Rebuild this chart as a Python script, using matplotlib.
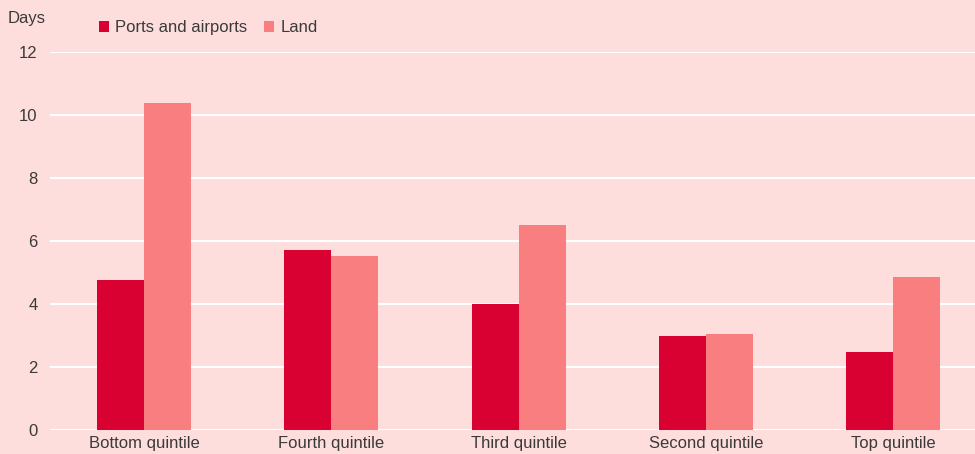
import matplotlib.pyplot as plt
import numpy as np

# data
categories = ["Bottom quintile", "Fourth quintile", "Third quintile", "Second quintile", "Top quintile"]
ports_airports = [4.76, 5.71, 4.0, 2.98, 2.48]
land = [10.38, 5.52, 6.51, 3.05, 4.86]
yticks = [0, 2, 4, 6, 8, 10, 12]

bg = "#FDDEDD"
c_ports = "#D90032"
c_land = "#F87E80"
txt = "#3a3a3a"

plt.rcParams["font.family"] = ["Liberation Sans", "DejaVu Sans"]

fig = plt.figure(figsize=(9.75, 4.54), dpi=100, facecolor=bg)
ax = fig.add_axes([50 / 975, 24 / 454, 925 / 975, 378 / 454], facecolor=bg)

x = np.arange(len(categories))
w = 0.251
ax.bar(x - w / 2, ports_airports, width=w, color=c_ports, label="Ports and airports", zorder=3)
ax.bar(x + w / 2, land, width=w, color=c_land, label="Land", zorder=3)

ax.set_ylim(0, 12)
ax.set_xlim(-0.502, 4.437)
ax.set_yticks(yticks)
ax.set_xticks(x)
ax.set_xticklabels(categories)
ax.yaxis.grid(True, color="white", lw=1.5, zorder=1)
ax.tick_params(length=0, labelsize=12, colors=txt)
ax.tick_params(axis="y", pad=9)
ax.tick_params(axis="x", pad=4)
for s in ax.spines.values():
    s.set_visible(False)

fig.text(8 / 975, 1 - 19 / 454, "Days", fontsize=12, color=txt, va="center", ha="left")
ax.legend(loc="lower left", bbox_to_anchor=(42 / 925, 1.0 + 10 / 378), ncol=2, frameon=False,
          fontsize=12, labelcolor=txt, handlelength=0.6, handleheight=0.6, handletextpad=0.4,
          columnspacing=1.0, borderaxespad=0)

fig.savefig("out.png", dpi=100, facecolor=bg)
